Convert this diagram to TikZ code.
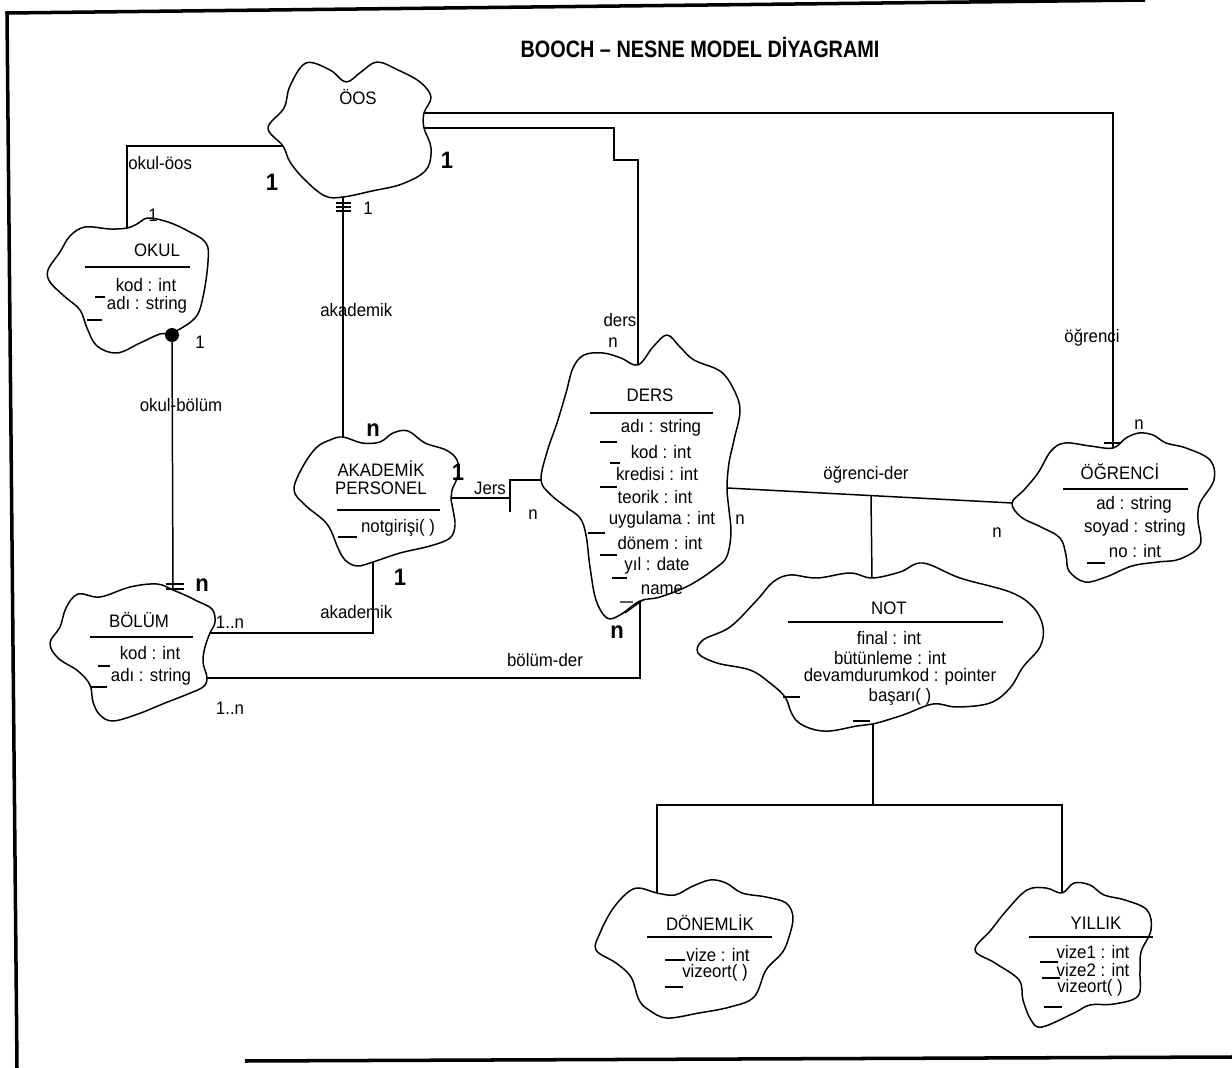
\documentclass[tikz,border=0pt]{standalone}
\usepackage{fontspec}
\setmainfont{Liberation Sans}[FakeStretch=0.93]
\usetikzlibrary{positioning}

\tikzset{
  cloudline/.style={line width=0.85pt, line join=round},
  link/.style={line width=0.85pt},
  frameline/.style={line width=2pt},
  vismark/.style={line width=0.7pt},
  clsname/.style={font=\fontsize{10.3}{11}\selectfont, inner sep=0pt},
  attr/.style={font=\fontsize{10.3}{11}\selectfont, inner sep=0pt},
  lbl/.style={font=\fontsize{10.3}{11}\selectfont, inner sep=0pt},
  card/.style={font=\fontsize{10.3}{11}\selectfont, inner sep=0pt},
  bcard/.style={font=\fontsize{13.5}{14}\selectfont\bfseries, inner sep=0pt},
}

\begin{document}
\begin{tikzpicture}[x=0.02cm, y=-0.02cm]
\useasboundingbox (0,0) rectangle (1232,1068);

% Page frame
\draw[frameline] (245,1061) -- (1232,1057);
\draw[frameline] (17,1068) -- (7,13) -- (1145,0);

% Title
\node (title) at (700,47) {\fontsize{13.5}{15}\selectfont\bfseries\scalebox{0.9}[1]{BOOCH – NESNE MODEL DİYAGRAMI}};

% Drawing class ÖOS
\draw[cloudline] plot[smooth cycle, tension=0.6] coordinates {(268,128) (284,108) (290,86) (306,63) (330,70) (346,82) (361,72) (377,62) (398,70) (420,82) (431,97) (424,113) (424,128) (431,148) (426,170) (402,184) (372,191) (343,197) (325,196) (305,180) (290,162) (283,146)};
\node[clsname] (oos) at (358,97) {ÖOS};
\coordinate (oos-e1) at (424,113);
\coordinate (oos-e2) at (424,128);
\coordinate (oos-w) at (283,146);
\coordinate (oos-s) at (343,197);

% Drawing class OKUL
\draw[cloudline] plot[smooth cycle, tension=0.6] coordinates {(127,228) (110,229) (85,227) (70,236) (60,252) (48,270) (50,282) (64,296) (80,310) (87,328) (97,346) (117,353) (140,343) (160,334) (172,333) (195,318) (203,297) (208,262) (206,243) (188,231) (168,222) (148,218) (137,224)};
\node[clsname] (okul) at (157,250) {OKUL};
\draw[link] (85,267) -- (190,267);
\node[attr] (okul-a1) at (146,285) {kod : int};
\node[attr] (okul-a2) at (147,305) {adı : string};
\draw[vismark] (95,297) -- (105,297);
\draw[vismark] (87,320) -- (102,320);
\coordinate (okul-n) at (127,228);
\coordinate (okul-s) at (172,335);

% Drawing class BÖLÜM
\draw[cloudline] plot[smooth cycle, tension=0.6] coordinates {(173,590) (157,584) (130,587) (100,597) (78,594) (66,608) (60,627) (50,643) (58,658) (78,671) (90,685) (93,702) (100,715) (113,721) (138,714) (165,703) (188,694) (203,687) (207,678) (203,662) (205,647) (210,633) (215,622) (212,609) (197,601) (187,596)};
\node[clsname] (bolum) at (139,620) {BÖLÜM};
\draw[link] (90,637) -- (193,637);
\node[attr] (bolum-a1) at (150,653) {kod : int};
\node[attr] (bolum-a2) at (151,677) {adı : string};
\draw[vismark] (98,666) -- (110,666);
\draw[vismark] (90,687) -- (107,687);
\coordinate (bolum-n) at (173,590);
\coordinate (bolum-e1) at (210,633);
\coordinate (bolum-e2) at (207,678);

% Drawing class AKADEMİK PERSONEL
\draw[cloudline] plot[smooth cycle, tension=0.6] coordinates {(343,437) (362,443) (380,442) (393,433) (408,431) (425,443) (446,450) (457,460) (458,475) (452,490) (451,498) (453,510) (455,525) (450,538) (430,546) (400,553) (373,562) (357,566) (345,560) (338,548) (327,524) (305,505) (294,490) (302,468) (316,448) (330,440)};
\node[clsname, align=center] (akad) at (381,478) {AKADEMİK\\[-1pt]PERSONEL};
\draw[link] (337,510) -- (440,510);
\node[attr] (akad-m1) at (398,528) {notgirişi( )};
\draw[vismark] (338,537) -- (357,537);
\coordinate (akad-n) at (343,437);
\coordinate (akad-e) at (451,498);
\coordinate (akad-s) at (373,562);

% Drawing class DERS
\draw[cloudline] plot[smooth cycle, tension=0.6] coordinates {(638,365) (653,347) (667,335) (680,347) (694,360) (720,371) (733,388) (740,410) (734,440) (729,463) (727,488) (729,510) (731,533) (727,556) (717,567) (690,585) (660,597) (640,601) (620,615) (607,618) (596,600) (590,567) (586,535) (580,518) (566,507) (550,494) (541,480) (547,452) (557,423) (566,393) (573,368) (584,355) (603,353) (621,358)};
\node[clsname] (ders) at (650,395) {DERS};
\draw[link] (590,413) -- (713,413);
\node[attr] (ders-a1) at (661,428) {adı : string};
\node[attr] (ders-a2) at (661,452) {kod : int};
\node[attr] (ders-a3) at (657,474) {kredisi : int};
\node[attr] (ders-a4) at (655,497) {teorik : int};
\node[attr] (ders-a5) at (662,520) {uygulama : int};
\node[attr] (ders-a6) at (660,543) {dönem : int};
\node[attr] (ders-a7) at (657,566) {yıl : date};
\node[attr] (ders-a8) at (662,590) {name};
\draw[vismark] (600,442) -- (617,442);
\draw[vismark] (610,463) -- (620,463);
\draw[vismark] (600,487) -- (617,487);
\draw[vismark] (588,533) -- (605,533);
\draw[vismark] (600,555) -- (617,555);
\draw[vismark] (612,578) -- (627,578);
\coordinate (ders-n) at (638,365);
\coordinate (ders-w) at (541,480);
\coordinate (ders-e) at (727,488);
\coordinate (ders-s) at (640,601);

% Drawing class ÖĞRENCİ
\draw[cloudline] plot[smooth cycle, tension=0.6] coordinates {(1113,448) (1090,446) (1065,443) (1051,451) (1038,473) (1024,490) (1012,503) (1021,517) (1041,527) (1060,538) (1066,555) (1069,571) (1085,582) (1106,577) (1132,566) (1158,562) (1180,559) (1200,545) (1198,520) (1200,503) (1214,480) (1210,460) (1186,448) (1166,443) (1153,435) (1139,433) (1126,438)};
\node[clsname] (ogr) at (1120,472) {ÖĞRENCİ};
\draw[link] (1063,489) -- (1188,489);
\node[attr] (ogr-a1) at (1134,505) {ad : string};
\node[attr] (ogr-a2) at (1135,528) {soyad : string};
\node[attr] (ogr-a3) at (1135,551) {no : int};
\draw[vismark] (1087,563) -- (1105,563);
\coordinate (ogr-n) at (1113,448);
\coordinate (ogr-w) at (1012,503);

% Drawing class NOT
\draw[cloudline] plot[smooth cycle, tension=0.6] coordinates {(872,578) (850,573) (817,578) (790,575) (773,582) (757,600) (730,627) (703,640) (698,653) (717,663) (750,670) (770,683) (785,697) (791,712) (798,722) (812,729) (830,731) (857,726) (873,724) (903,715) (933,704) (957,707) (990,703) (1010,688) (1023,667) (1040,647) (1043,627) (1033,607) (1010,592) (960,578) (923,563) (900,572)};
\node[clsname] (not) at (889,608) {NOT};
\draw[link] (788,622) -- (1003,622);
\node[attr] (not-a1) at (889,638) {final : int};
\node[attr] (not-a2) at (890,658) {bütünleme : int};
\node[attr] (not-a3) at (900,677) {devamdurumkod : pointer};
\node[attr] (not-m1) at (900,697) {başarı( )};
\draw[vismark] (783,697) -- (800,697);
\draw[vismark] (853,721) -- (870,721);
\coordinate (not-n) at (872,578);
\coordinate (not-s) at (873,724);

% Drawing class DÖNEMLİK
\draw[cloudline] plot[smooth cycle, tension=0.6] coordinates {(657,893) (639,888) (627,893) (612,910) (600,933) (596,950) (616,963) (631,977) (639,1000) (649,1010) (667,1018) (699,1013) (730,1007) (754,997) (766,970) (782,953) (789,937) (793,917) (786,903) (766,897) (742,893) (726,883) (710,880) (691,887) (675,895)};
\node[clsname] (donem) at (710,923) {DÖNEMLİK};
\draw[link] (647,937) -- (772,937);
\node[attr] (donem-a1) at (718,955) {vize : int};
\node[attr] (donem-m1) at (715,973) {vizeort( )};
\draw[vismark] (665,960) -- (685,960);
\draw[vismark] (665,987) -- (683,987);
\coordinate (donem-n) at (657,893);

% Drawing class YILLIK
\draw[cloudline] plot[smooth cycle, tension=0.6] coordinates {(1062,893) (1046,888) (1027,890) (1007,910) (991,930) (975,950) (995,963) (1019,980) (1023,1000) (1031,1020) (1042,1027) (1074,1013) (1090,1005) (1114,1004) (1138,996) (1140,972) (1141,952) (1151,930) (1147,910) (1125,900) (1104,895) (1090,885) (1074,883)};
\node[clsname] (yil) at (1096,923) {YILLIK};
\draw[link] (1029,937) -- (1153,937);
\node[attr] (yil-a1) at (1093,952) {vize1 : int};
\node[attr] (yil-a2) at (1093,970) {vize2 : int};
\node[attr] (yil-m1) at (1090,988) {vizeort( )};
\draw[vismark] (1040,962) -- (1058,962);
\draw[vismark] (1042,978) -- (1060,978);
\draw[vismark] (1044,1007) -- (1062,1007);
\coordinate (yil-n) at (1062,893);

% Drawing relations
\draw[link] (oos-e1) -| (ogr-n);
\draw[link] (oos-e2) -| (614,160) -| (ders-n);
\draw[link] (okul-n) |- (oos-w);
\draw[link] (oos-s) -- (akad-n);
\draw[link] (okul-s) -- (bolum-n);
\fill (okul-s) circle (7);
\draw[link] (akad-s) |- (bolum-e1);
\draw[link] (bolum-e2) -| (ders-s);
\coordinate (jers) at (510,498);
\draw[link] (akad-e) -- (jers);
\draw[link] (510,512) -- (510,480) -- (ders-w);
\draw[link] (ders-e) -- (ogr-w);
\coordinate (ogr-der) at (871,496);
\draw[link] (ogr-der) -- (not-n);
\coordinate (inherit) at (873,805);
\draw[link] (not-s) -- (inherit);
\draw[link] (donem-n) |- (inherit) -| (yil-n);

% Relation marks
\draw[vismark] (336,203) -- (351,203) (336,207) -- (351,207) (336,211) -- (351,211);
\draw[vismark] (166,584) -- (184,584) (166,589) -- (184,589);
\draw[vismark] (1104,443) -- (1121,443);
\draw[vismark] (620,602) -- (633,602) (625,613) -- (643,600);

% Relation labels
\node[lbl, anchor=west] (l-okuloos) at (128,163) {okul-öos};
\node[lbl, anchor=west] (l-akad1) at (320,310) {akademik};
\node[lbl] (l-okulbol) at (181,405) {okul-bölüm};
\node[lbl, anchor=west] (l-akad2) at (320,612) {akademik};
\node[lbl] (l-bolder) at (545,660) {bölüm-der};
\node[lbl] (l-jers) at (490,488) {Jers};
\node[lbl] (l-ders) at (620,320) {ders};
\node[lbl] (l-ogr) at (1092,338) {öğrenci};
\node[lbl] (l-ogrder) at (866,475) {öğrenci-der};

% Cardinalities
\node[card] (c1) at (153,215) {1};
\node[bcard] (c2) at (272,182) {1};
\node[bcard] (c3) at (447,160) {1};
\node[card] (c4) at (368,208) {1};
\node[card] (c5) at (200,342) {1};
\node[bcard] (c6) at (202,585) {n};
\node[card] (c7) at (230,622) {1..n};
\node[card] (c8) at (230,708) {1..n};
\node[bcard] (c9) at (373,430) {n};
\node[bcard] (c10) at (458,472) {1};
\node[bcard] (c11) at (400,577) {1};
\node[card] (c12) at (533,515) {n};
\node[card] (c13) at (613,343) {n};
\node[bcard] (c14) at (617,632) {n};
\node[card] (c15) at (740,520) {n};
\node[card] (c16) at (1139,425) {n};
\node[card] (c17) at (997,533) {n};
\end{tikzpicture}
\end{document}
